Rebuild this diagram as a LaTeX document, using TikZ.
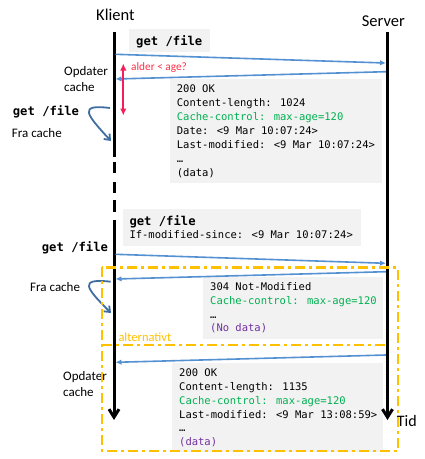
\documentclass[tikz,border=0pt]{standalone}
\usepackage{fontspec}
\setmainfont{Carlito}
\newfontfamily\monofont{DejaVu Sans Mono}
\usetikzlibrary{arrows.meta}
\definecolor{boxgray}{RGB}{242,242,242}
\definecolor{msgblue}{RGB}{84,145,210}
\definecolor{darkblue}{RGB}{65,110,160}
\definecolor{cgreen}{RGB}{0,176,80}
\definecolor{cpurple}{RGB}{112,48,160}
\definecolor{alderred}{RGB}{255,45,70}
\definecolor{arrred}{RGB}{245,30,90}
\definecolor{altorange}{RGB}{255,192,0}
\begin{document}
\begin{tikzpicture}[x=1pt,y=-1pt,
  lifeline/.style={line width=3pt,black},
  lifearrow/.style={lifeline,-{Straight Barb[length=8pt,width=10pt]}},
  msg/.style={draw=msgblue,line width=1.6pt,-{Latex[length=6pt,width=5.5pt]}},
  cachearrow/.style={draw=darkblue,line width=1.8pt,-{Straight Barb[length=5pt,width=8pt]}},
  graybox/.style={fill=boxgray,draw=none,inner sep=0pt,anchor=north west},
  lbl/.style={inner sep=0pt,anchor=base west},
  sans/.style={lbl,font=\fontsize{13}{16}\selectfont},
  big/.style={lbl,font=\fontsize{16.5}{20}\selectfont},
  code/.style={lbl,font=\monofont\fontsize{10.5}{14}\selectfont},
  codebold/.style={lbl,font=\monofont\bfseries\fontsize{12.2}{15}\selectfont},
  altbox/.style={draw=altorange,line width=2.4pt,dash pattern=on 10pt off 4pt on 3pt off 4pt}
]
\useasboundingbox (0,0) rectangle (425,459);

% gray boxes
\node[graybox,minimum width=81pt,minimum height=23pt] (box1) at (129,29) {};
\node[graybox,minimum width=212pt,minimum height=104pt] (box2) at (170,79) {};
\node[graybox,minimum width=238pt,minimum height=37pt] (box3) at (123,209) {};
\node[graybox,minimum width=180pt,minimum height=62pt] (box4) at (203,277) {};
\node[graybox,minimum width=211pt,minimum height=89pt] (box5) at (172,363) {};

% box texts
\node[codebold] (req1) at (136,45) {get /file};
\node[code] (resp1) at (176.7,92.7) {\begin{tabular}[t]{@{}l@{}}
200 OK\\
Content-length: 1024\\
{\color{cgreen}Cache-control: max-age=120}\\
Date: <9 Mar 10:07:24>\\
Last-modified: <9 Mar 10:07:24>\\
…\\
(data)
\end{tabular}};
\node[codebold] (req2) at (129.3,225) {get /file};
\node[code] (req2b) at (129.3,238.3) {If-modified-since: <9 Mar 10:07:24>};
\node[code,font=\monofont\fontsize{10.5}{13.7}\selectfont] (resp2) at (210,290.7) {\begin{tabular}[t]{@{}l@{}}
304 Not-Modified\\
{\color{cgreen}Cache-control: max-age=120}\\
…\\
{\color{cpurple}(No data)}
\end{tabular}};
\node[code,font=\monofont\fontsize{10.5}{13.8}\selectfont] (resp3) at (179,376.7) {\begin{tabular}[t]{@{}l@{}}
200 OK\\
Content-length: 1135\\
{\color{cgreen}Cache-control: max-age=120}\\
Last-modified: <9 Mar 13:08:59>\\
…\\
{\color{cpurple}(data)}
\end{tabular}};

% labels
\node[big] (klient) at (96,20.5) {Klient};
\node[big] (server) at (361.7,26.7) {Server};
\node[big,font=\fontsize{16}{20}\selectfont] (tid) at (396.7,426) {Tid};
\node[sans] (opd1) at (64,75.5) {Opdater};
\node[sans] (cache1) at (64,91.5) {cache};
\node[codebold] (get1) at (12.7,115) {get /file};
\node[sans] (fra1) at (11.7,137) {Fra cache};
\node[codebold] (get2) at (41.7,251.7) {get /file};
\node[sans] (fra2) at (30,291) {Fra cache};
\node[sans,text=altorange,font=\fontsize{12.5}{15}\selectfont] (alt) at (118.3,341.7) {alternativt};
\node[sans] (opd2) at (63,380.7) {Opdater};
\node[sans] (cache2) at (63,396) {cache};
\node[lbl,text=alderred,font=\fontsize{11.3}{14}\selectfont] (alder) at (131,70.7) {alder < age?};

% lifelines
\coordinate (ktop) at (114,32);
\coordinate (kbreak) at (114,157);
\coordinate (kresume) at (114,220);
\coordinate (kend) at (114,420);
\coordinate (stop) at (387.5,32);
\coordinate (send) at (387.5,420);
\draw[lifeline] (ktop) -- (kbreak);
\draw[lifeline] (114,162) -- (114,173);
\draw[lifeline] (114,182) -- (114,193);
\draw[lifeline] (114,200) -- (114,212);
\draw[lifearrow] (kresume) -- (kend);
\draw[lifearrow] (stop) -- (send);

% messages
\coordinate (k1) at (115.5,54.3);
\coordinate (s1) at (386,63);
\coordinate (s2) at (386,71.7);
\coordinate (k2) at (115.5,79);
\coordinate (k3) at (115.5,254.3);
\coordinate (s3) at (386,263.3);
\coordinate (s4) at (386,271.7);
\coordinate (k4) at (115.5,279);
\coordinate (s5) at (386,355);
\coordinate (k5) at (115.5,362.3);
\draw[msg] (k1) -- (s1);
\draw[msg] (s2) -- (k2);
\draw[msg] (k3) -- (s3);
\draw[msg] (s4) -- (k4);
\draw[msg] (s5) -- (k5);

% age arrow
\coordinate (agetop) at (123.3,63.5);
\coordinate (agebot) at (123.3,115.5);
\draw[arrred,line width=1.8pt,{Latex[length=7pt,width=6.5pt]}-{Latex[length=7pt,width=6.5pt]}] (agetop) -- (agebot);

% from-cache arrows
\coordinate (c1s) at (110,108);
\coordinate (c1e) at (111,141);
\coordinate (c2s) at (110.7,281.7);
\coordinate (c2e) at (111,313);
\draw[cachearrow] (c1s) .. controls (78,104) and (86,114) .. (c1e);
\draw[cachearrow] (c2s) .. controls (78,278) and (86,288) .. (c2e);

% alternative frame
\coordinate (alttl) at (101.7,267.3);
\coordinate (altbr) at (397.7,451);
\coordinate (divl) at (101.7,345);
\coordinate (divr) at (387,345);
\draw[altbox] (alttl) rectangle (altbr);
\draw[altbox] (divl) -- (divr);
\end{tikzpicture}
\end{document}
